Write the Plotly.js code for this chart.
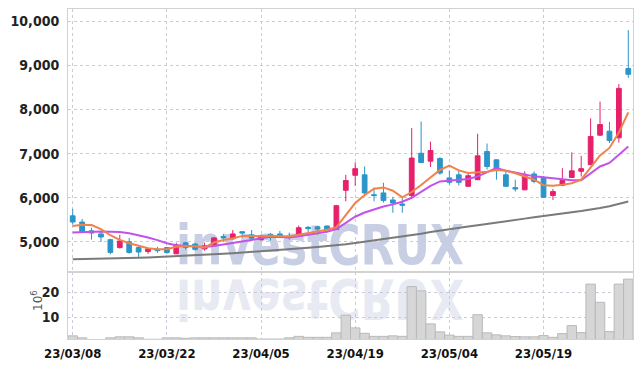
<!DOCTYPE html>
<html>
<head>
<meta charset="utf-8">
<script src="https://cdn.plot.ly/plotly-3.0.1.min.js"></script>
<style>
html,body{margin:0;padding:0;background:#fff;}
#wrap{position:relative;width:642px;height:366px;overflow:hidden;}
#chart{position:absolute;left:0;top:0;width:642px;height:366px;z-index:2;}
.wm{position:absolute;left:176px;font-family:"DejaVu Sans",sans-serif;font-weight:bold;font-size:55px;white-space:nowrap;z-index:1;}
#wm1{top:231px;height:41px;line-height:41px;color:rgb(200,207,228);transform-origin:0 41px;transform:scaleX(0.80);}
#wm2{top:272px;height:41px;line-height:41px;color:rgb(231,234,242);transform-origin:0 0;transform:scale(0.80,-1);}
</style>
</head>
<body>
<div id="wrap">
  <div class="wm" id="wm1"><span style="position:relative;top:-6px">investCRUX</span></div>
  <div class="wm" id="wm2"><span style="position:relative;top:-47px">investCRUX</span></div>
  <div id="chart"></div>
</div>
<script>
const dates = [
 "23/03/08","23/03/09","23/03/10","23/03/13","23/03/14","23/03/15","23/03/16","23/03/17","23/03/20","23/03/21",
 "23/03/22","23/03/23","23/03/24","23/03/27","23/03/28","23/03/29","23/03/30","23/03/31","23/04/03","23/04/04",
 "23/04/05","23/04/06","23/04/07","23/04/10","23/04/11","23/04/12","23/04/13","23/04/14","23/04/17","23/04/18",
 "23/04/19","23/04/20","23/04/21","23/04/24","23/04/25","23/04/26","23/04/27","23/04/28","23/05/02","23/05/03",
 "23/05/04","23/05/08","23/05/09","23/05/10","23/05/11","23/05/12","23/05/15","23/05/16","23/05/17","23/05/18",
 "23/05/19","23/05/22","23/05/23","23/05/24","23/05/25","23/05/26","23/05/30","23/05/31","23/06/01","23/06/02"
];
const tickDates = ["23/03/08","23/03/22","23/04/05","23/04/19","23/05/04","23/05/19"];

const openP = [5590,5450,5250,5180,5050,4870,5000,4870,4780,4830,
               4870,4730,4980,4950,4840,4930,5120,5070,5230,5160,
               5050,5170,5180,5120,5140,5330,5340,5360,5280,6170,
               6510,6520,6070,6110,5950,5860,6050,7010,6830,6890,
               6450,6520,6260,6410,7050,6860,6520,6230,6180,6540,
               6450,6050,6280,6460,6600,6750,7420,7510,7360,8930];
const highP = [5750,5520,5320,5230,5070,5160,5090,4900,4860,4890,
               4880,4980,5000,4980,4980,5110,5180,5270,5240,5270,
               5160,5200,5250,5210,5370,5360,5360,5370,5840,6520,
               6800,6710,6230,6340,6020,6000,7580,7730,7270,6920,
               6620,6640,6580,7450,7230,6870,6600,6410,6600,6600,
               6490,6200,6670,7030,6950,7800,8180,7720,8580,9800];
const lowP  = [5390,5200,5050,5000,4720,4850,4730,4660,4730,4750,
               4730,4720,4820,4800,4800,4920,5000,5050,5090,5020,
               5030,5030,5100,5050,5130,5200,5160,5270,5270,5920,
               6270,6050,5920,5890,5660,5660,5990,6790,6700,6520,
               6300,6280,6250,6400,6640,6410,6250,6140,6170,6330,
               6000,5950,6260,6450,6480,6740,7400,7240,7250,8720];
const closeP= [5450,5230,5200,5110,4760,5020,4760,4770,4840,4800,
               4760,4930,4870,4830,4910,5090,5090,5180,5200,5080,
               5140,5140,5120,5100,5320,5300,5290,5280,5820,6390,
               6660,6110,6050,5940,5880,5830,6900,6800,7070,6560,
               6350,6350,6500,6950,6710,6620,6260,6200,6500,6370,
               6010,6140,6390,6610,6660,7390,7660,7300,8480,8800];

const ma5  = [5360,5390,5380,5290,5150,5045,4970,4910,4855,4835,
              4835,4890,4905,4900,4870,4985,5040,5075,5135,5135,
              5125,5140,5135,5120,5160,5200,5235,5275,5335,5610,
              5880,6060,6205,6235,6160,6010,6130,6290,6470,6630,
              6730,6620,6560,6575,6590,6630,6612,6555,6480,6410,
              6285,6275,6295,6330,6410,6690,6960,7130,7480,7935];
const ma10 = [5210,5220,5235,5235,5230,5225,5195,5150,5100,5040,
              4970,4925,4910,4895,4885,4905,4940,4985,5020,5060,
              5095,5115,5110,5100,5125,5160,5195,5230,5290,5420,
              5570,5665,5740,5800,5850,5910,6000,6140,6270,6370,
              6390,6395,6425,6485,6575,6675,6615,6575,6525,6485,
              6465,6445,6410,6395,6395,6545,6710,6790,6975,7165];
const maLong=[4607,4610,4615,4618,4620,4625,4632,4640,4648,4656,
              4665,4673,4682,4692,4703,4715,4728,4742,4756,4770,
              4785,4800,4815,4830,4848,4866,4884,4902,4920,4948,
              4975,5003,5030,5058,5086,5115,5150,5185,5222,5258,
              5295,5322,5350,5378,5405,5430,5462,5495,5527,5558,
              5590,5618,5645,5672,5700,5730,5768,5808,5855,5915];

const volumeM = [2.5,1.7,1.0,1.0,1.7,2.1,2.1,1.7,1.1,1.1,
                 1.7,1.7,1.5,1.7,1.7,1.7,1.7,1.7,1.7,1.7,
                 1.2,1.2,1.2,1.7,2.3,1.9,1.9,1.9,3.7,10.8,
                 5.7,3.5,2.3,2.3,2.5,2.3,22.3,20.6,7.3,4.1,
                 2.8,2.3,2.3,11.0,3.7,2.9,2.5,2.2,2.1,2.1,
                 2.6,1.9,3.4,6.6,3.8,23.3,16.0,4.2,23.3,25.3];

const upC = '#e6206b', downC = '#2b95c9';
const fam = '"Liberation Sans Narrow","DejaVu Sans Condensed",sans-serif';
const tickFont = {family:fam, size:14, color:'#222', weight:'bold'};

const traces = [
  {type:'candlestick', x:dates, open:openP, high:highP, low:lowP, close:closeP,
   xaxis:'x', yaxis:'y', whiskerwidth:0,
   increasing:{line:{color:upC,width:1}, fillcolor:upC},
   decreasing:{line:{color:downC,width:1}, fillcolor:downC},
   hoverinfo:'skip', showlegend:false},
  {type:'scatter', mode:'lines', x:dates, y:maLong, xaxis:'x', yaxis:'y',
   line:{color:'#7a7a7a', width:2}, hoverinfo:'skip', showlegend:false},
  {type:'scatter', mode:'lines', x:dates, y:ma10, xaxis:'x', yaxis:'y',
   line:{color:'#c452e8', width:2}, hoverinfo:'skip', showlegend:false},
  {type:'scatter', mode:'lines', x:dates, y:ma5, xaxis:'x', yaxis:'y',
   line:{color:'#f0834c', width:2}, hoverinfo:'skip', showlegend:false},
  {type:'bar', x:dates, y:volumeM, xaxis:'x2', yaxis:'y2',
   marker:{color:'#d6d6d6', line:{color:'#b9b9b9', width:1}},
   hoverinfo:'skip', showlegend:false}
];

const gridC = '#c9cbdb';
const axisLine = '#d2d2d2';
const layout = {
  width:642, height:366,
  margin:{l:68, r:9, t:9, b:27},
  paper_bgcolor:'rgba(0,0,0,0)', plot_bgcolor:'rgba(0,0,0,0)',
  bargap:0, boxgap:0.28,
  xaxis:{type:'category', domain:[0,1], anchor:'y', range:[-0.5,59.5],
         tickvals:tickDates, showticklabels:false, ticks:'',
         showgrid:true, gridcolor:gridC, griddash:'dot', gridwidth:1,
         showline:true, linecolor:axisLine, linewidth:1, mirror:true,
         rangeslider:{visible:false}, fixedrange:true},
  yaxis:{domain:[0.2032,1], anchor:'x', range:[4318,10280],
         tickvals:[5000,6000,7000,8000,9000,10000],
         ticktext:['5,000','6,000','7,000','8,000','9,000','10,000'],
         tickfont:tickFont, ticks:'', ticklabelstandoff:5,
         showgrid:true, gridcolor:gridC, griddash:'dot', gridwidth:1, zeroline:false,
         showline:true, linecolor:axisLine, linewidth:1, mirror:true},
  xaxis2:{type:'category', domain:[0,1], anchor:'y2', range:[-0.5,59.5], matches:'x',
          tickvals:tickDates, ticktext:tickDates, ticks:'', ticklabelstandoff:2,
          tickfont:{family:fam, size:13, color:'#111', weight:'bold'},
          showgrid:true, gridcolor:gridC, griddash:'dot', gridwidth:1,
          showline:true, linecolor:axisLine, linewidth:1, mirror:true},
  yaxis2:{domain:[0,0.2032], anchor:'x2', range:[1.23,28.2],
          tickvals:[10,20], ticktext:['10','20'], tickfont:tickFont, ticks:'', ticklabelstandoff:5,
          showgrid:true, gridcolor:gridC, griddash:'dot', gridwidth:1, zeroline:false,
          showline:true, linecolor:axisLine, linewidth:1, mirror:true},
  annotations:[
    {text:'10<sup>6</sup>', xref:'paper', yref:'paper', x:-0.055, y:0.118,
     xanchor:'center', yanchor:'middle', textangle:-90, showarrow:false,
     font:{family:'"DejaVu Sans",sans-serif', size:12, color:'#555'}}
  ]
};

Plotly.newPlot('chart', traces, layout, {displayModeBar:false, staticPlot:true});
</script>
</body>
</html>
